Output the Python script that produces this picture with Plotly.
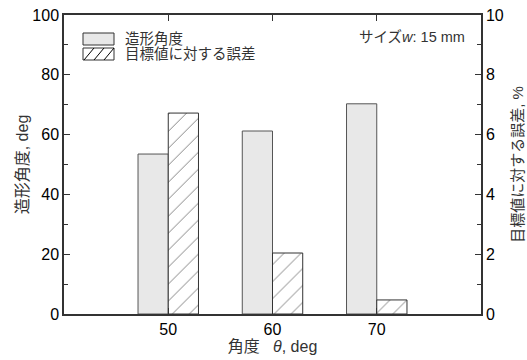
import plotly.graph_objects as go

angles = [50, 60, 70]
formed_angle = [53.5, 61.2, 70.3]       # deg, left axis
error_pct = [6.72, 2.04, 0.47]          # %, right axis
x_ticks = [50, 60, 70]
legend_names = ["造形角度", "目標値に対する誤差"]
bar_w = 2.9

JP = "Liberation Sans, Noto Sans CJK JP, Arial, sans-serif"
NUM = "Liberation Sans, Arial, sans-serif"
axc = "#333333"

fig = go.Figure()
fig.add_trace(go.Bar(
    x=angles, y=formed_angle, name=legend_names[0],
    width=bar_w, offset=-bar_w,
    marker=dict(color="#e8e8e8", line=dict(color="#555555", width=1)),
    yaxis="y", showlegend=False,
))
fig.add_trace(go.Bar(
    x=angles, y=error_pct, name=legend_names[1],
    width=bar_w, offset=0,
    marker=dict(color="white", line=dict(color="#333333", width=1),
                pattern=dict(shape="/", fgcolor="black", bgcolor="white",
                             size=12, solidity=0.08)),
    yaxis="y2", showlegend=False,
))

# --- manual legend (paper coords; plot area 417 x 299 px) ---
PW, PH = 417.0, 299.0
def px(xp):  # pixel offset from plot left -> paper
    return xp / PW
def py(yp):  # pixel offset from plot top -> paper
    return 1 - yp / PH

shapes = []
shapes.append(dict(type="rect", xref="paper", yref="paper",
                   x0=px(19), x1=px(50), y0=py(30), y1=py(18),
                   fillcolor="#e8e8e8", line=dict(color="#333", width=1)))
shapes.append(dict(type="rect", xref="paper", yref="paper",
                   x0=px(19), x1=px(50), y0=py(45), y1=py(33),
                   fillcolor="white", line=dict(color="#333", width=1)))
for a, b in [(19, 29), (29, 39), (39, 49)]:
    shapes.append(dict(type="line", xref="paper", yref="paper",
                       x0=px(a + 1), y0=py(45), x1=px(b + 1), y1=py(33),
                       line=dict(color="black", width=1)))

annotations = [
    dict(text=legend_names[0], x=px(59), y=py(23.5), xref="paper", yref="paper",
         xanchor="left", yanchor="middle", showarrow=False,
         font=dict(family=JP, size=14.5, color="#333")),
    dict(text=legend_names[1], x=px(59), y=py(38.5), xref="paper", yref="paper",
         xanchor="left", yanchor="middle", showarrow=False,
         font=dict(family=JP, size=14.5, color="#333")),
    dict(text="サイズ<i>w</i>: 15 mm", x=px(403), y=py(22), xref="paper", yref="paper",
         xanchor="right", yanchor="middle", showarrow=False,
         font=dict(family=JP, size=14.5, color="#333")),
]

fig.update_layout(
    width=527, height=360,
    margin=dict(l=64, r=46, t=15, b=46),
    paper_bgcolor="white", plot_bgcolor="white",
    showlegend=False,
    shapes=shapes,
    annotations=annotations,
    xaxis=dict(range=[40, 80], tickvals=x_ticks, ticktext=[str(v) for v in x_ticks],
               ticks="inside", ticklen=6, tickcolor=axc,
               showline=True, linecolor=axc, linewidth=1.5, mirror="ticks",
               showgrid=False, zeroline=False, automargin=False,
               tickfont=dict(family=NUM, size=16, color="black"),
               title=dict(text="角度&nbsp;&nbsp;&nbsp;<i>θ</i>, deg", standoff=0,
                          font=dict(family=JP, size=16, color="#333"))),
    yaxis=dict(range=[0, 100], dtick=20, ticks="inside", ticklen=6, tickcolor=axc,
               minor=dict(dtick=10, ticks="inside", ticklen=4, tickcolor=axc),
               showline=True, linecolor=axc, linewidth=1.5,
               showgrid=False, zeroline=False, automargin=False,
               tickfont=dict(family=NUM, size=16, color="black"),
               title=dict(text="造形角度, deg", standoff=0,
                          font=dict(family=JP, size=16, color="#333"))),
    yaxis2=dict(range=[0, 10], dtick=2, overlaying="y", side="right",
                ticks="inside", ticklen=6, tickcolor=axc,
                minor=dict(dtick=1, ticks="inside", ticklen=4, tickcolor=axc),
                showline=True, linecolor=axc, linewidth=1.5,
                showgrid=False, zeroline=False, automargin=False,
                tickfont=dict(family=NUM, size=16, color="black"),
                title=dict(text="目標値に対する誤差, %", standoff=10,
                           font=dict(family=JP, size=15, color="#333"))),
)

fig.write_html("out.html", config={"displayModeBar": False},
               post_script="document.body.style.margin='0';document.body.style.padding='0';")
